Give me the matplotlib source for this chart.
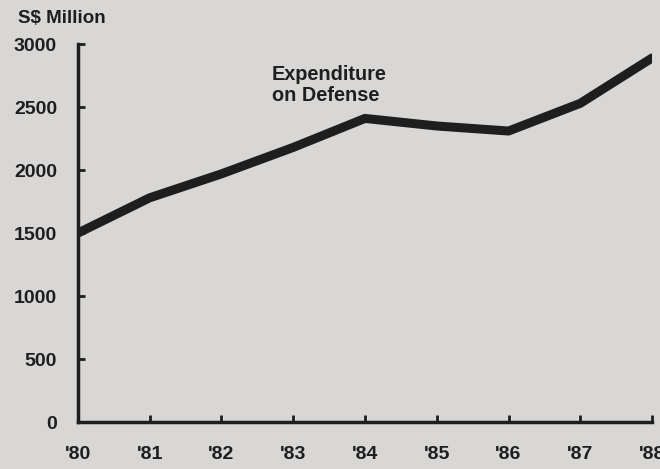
import matplotlib
matplotlib.use('Agg')
import matplotlib.pyplot as plt

# values (S$ million)
years = ["'80", "'81", "'82", "'83", "'84", "'85", "'86", "'87", "'88"]
defense_spend = [1500, 1780, 1970, 2180, 2410, 2350, 2310, 2530, 2890]
y_ticks = [0, 500, 1000, 1500, 2000, 2500, 3000]

paper = '#d8d7d5'
ink = '#1e1e1e'

plt.rcParams['font.family'] = ['Liberation Sans', 'DejaVu Sans']
plt.rcParams['font.weight'] = 'bold'

fig = plt.figure(figsize=(6.6, 4.69), dpi=100, facecolor=paper)
ax = fig.add_axes([0.118, 0.100, 0.870, 0.806], facecolor=paper)

x = list(range(len(years)))
ax.plot(x, defense_spend, color=ink, linewidth=6.5, solid_capstyle='round',
        solid_joinstyle='round')

ax.set_xlim(0, len(years) - 1)
ax.set_ylim(0, 3000)
ax.set_xticks(x)
ax.set_xticklabels(years)
ax.set_yticks(y_ticks)

for side in ['top', 'right']:
    ax.spines[side].set_visible(False)
for side in ['left', 'bottom']:
    ax.spines[side].set_linewidth(2.5)
    ax.spines[side].set_color(ink)

ax.tick_params(axis='both', direction='in', length=5, width=2, color=ink,
               labelsize=14, labelcolor=ink)
ax.tick_params(axis='x', pad=17)
ax.tick_params(axis='y', pad=15)
for lbl in ax.get_xticklabels() + ax.get_yticklabels():
    lbl.set_fontweight('bold')

fig.text(0.027, 0.96, 'S$ Million', fontsize=13.5, fontweight='bold',
         color=ink, ha='left', va='center')
ax.text(2.70, 2675, 'Expenditure\non Defense', fontsize=14.3, fontweight='bold',
        color=ink, ha='left', va='center', linespacing=1.15)

fig.savefig('out.png', dpi=100, facecolor=paper)
